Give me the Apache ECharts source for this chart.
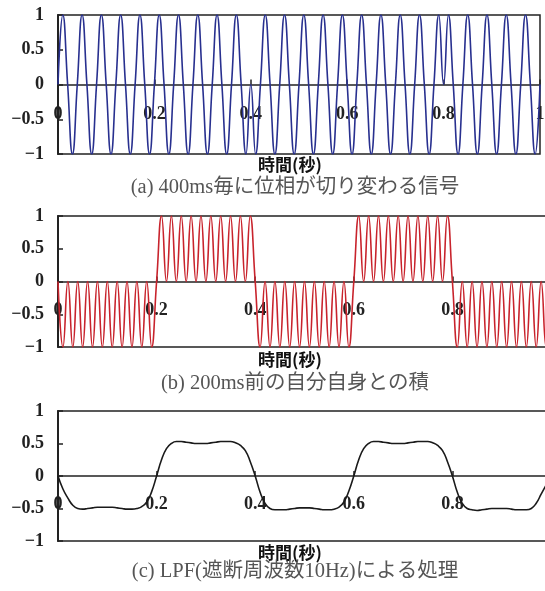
<!DOCTYPE html>
<html><head><meta charset="utf-8">
<script src="https://cdn.jsdelivr.net/npm/echarts@6/dist/echarts.min.js"></script>
<style>html,body{margin:0;padding:0;background:#fff}#c{width:545px;height:591px}</style>
</head><body><div id="c"></div>
<script>
// time samples (s)
const time = [0,0.01,0.02,0.03,0.04,0.05,0.06,0.07,0.08,0.09,
0.1,0.11,0.12,0.13,0.14,0.15,0.16,0.17,0.18,0.19,
0.2,0.21,0.22,0.23,0.24,0.25,0.26,0.27,0.28,0.29,
0.3,0.31,0.32,0.33,0.34,0.35,0.36,0.37,0.38,0.39,
0.4,0.41,0.42,0.43,0.44,0.45,0.46,0.47,0.48,0.49,
0.5,0.51,0.52,0.53,0.54,0.55,0.56,0.57,0.58,0.59,
0.6,0.61,0.62,0.63,0.64,0.65,0.66,0.67,0.68,0.69,
0.7,0.71,0.72,0.73,0.74,0.75,0.76,0.77,0.78,0.79,
0.8,0.81,0.82,0.83,0.84,0.85,0.86,0.87,0.88,0.89,
0.9,0.91,0.92,0.93,0.94,0.95,0.96,0.97,0.98,0.99,1];
// (a) phase-switching signal
const signalA = [0,1,0,-1,0,1,0,-1,0,1,
0,-1,0,1,0,-1,0,1,0,-1,
0,1,0,-1,0,1,0,-1,0,1,
0,-1,0,1,0,-1,0,1,0,-1,
0,-1,0,1,0,-1,0,1,0,-1,
0,1,0,-1,0,1,0,-1,0,1,
0,-1,0,1,0,-1,0,1,0,-1,
0,1,0,-1,0,1,0,-1,0,1,
0,1,0,-1,0,1,0,-1,0,1,
0,-1,0,1,0,-1,0,1,0,-1,0];
// (b) product with itself 200ms earlier
const productB = [0,-1,0,-1,0,-1,0,-1,0,-1,
0,-1,0,-1,0,-1,0,-1,0,-1,
0,1,0,1,0,1,0,1,0,1,
0,1,0,1,0,1,0,1,0,1,
0,-1,0,-1,0,-1,0,-1,0,-1,
0,-1,0,-1,0,-1,0,-1,0,-1,
0,1,0,1,0,1,0,1,0,1,
0,1,0,1,0,1,0,1,0,1,
0,-1,0,-1,0,-1,0,-1,0,-1,
0,-1,0,-1,0,-1,0,-1,0,-1,0];
// (c) low-pass filtered
const lpfC = [0,-0.20,-0.34,-0.45,-0.50,-0.51,-0.50,-0.49,-0.48,-0.48,
-0.48,-0.48,-0.49,-0.50,-0.51,-0.51,-0.50,-0.47,-0.40,-0.24,
0.00,0.25,0.42,0.50,0.53,0.53,0.52,0.51,0.50,0.50,
0.50,0.51,0.52,0.53,0.53,0.53,0.51,0.47,0.39,0.22,
0.00,-0.25,-0.42,-0.50,-0.52,-0.52,-0.52,-0.51,-0.50,-0.49,
-0.49,-0.49,-0.50,-0.51,-0.52,-0.52,-0.51,-0.48,-0.40,-0.23,
0.00,0.25,0.42,0.50,0.53,0.53,0.52,0.51,0.50,0.50,
0.50,0.51,0.52,0.53,0.53,0.53,0.51,0.47,0.39,0.22,
0.00,-0.25,-0.42,-0.50,-0.52,-0.53,-0.52,-0.51,-0.50,-0.50,
-0.50,-0.50,-0.51,-0.52,-0.52,-0.52,-0.50,-0.42,-0.28,-0.14,0.00];
const xTickStep = 0.2;
const yTickStep = 0.5;
const axisTitle = '時間(秒)';
const captions = ['(a) 400ms毎に位相が切り変わる信号','(b) 200ms前の自分自身との積','(c) LPF(遮断周波数10Hz)による処理'];
const colors = ['#28308f','#c8232c','#1a1a1a'];

const grids = [
  {left:58, top:15, width:482, height:139},
  {left:58, top:216, width:493, height:131},
  {left:58, top:411, width:493, height:130}
];
const labelOffset = [-69.5, -65.5, -65];
const labelMargin = [20.5, 20, 19.5];
const labelFont = {fontFamily:'Liberation Serif', fontWeight:'bold', fontSize:18, color:'#222'};
const chart = echarts.init(document.getElementById('c'), null, {renderer:'canvas'});
const xAxes = [], yAxes = [], series = [];
const datasets = [signalA, productB, lpfC];
const titleY = [165, 360, 553];
const capY = [188, 384, 572];
const fmtX = v => v===0 ? '0' : (v===1 ? '1' : v.toFixed(1));
grids.forEach((g,i)=>{
  g.show = true; g.borderColor = '#222'; g.borderWidth = 1.5; g.containLabel = false; g.outerBoundsMode = 'none';
  xAxes.push({type:'value', gridIndex:i, min:0, max:1, interval:xTickStep,
    axisLine:{onZero:true, lineStyle:{color:'#222', width:1.5}},
    axisTick:{show:true, inside:true, length:5, lineStyle:{color:'#222', width:1.5}},
    axisLabel:{show:false},
    splitLine:{show:false}});
  xAxes.push({type:'value', gridIndex:i, min:0, max:1, interval:xTickStep, position:'bottom', offset:labelOffset[i],
    axisLine:{show:false, onZero:false}, axisTick:{show:false},
    axisLabel:Object.assign({margin:labelMargin[i], formatter:fmtX}, labelFont),
    splitLine:{show:false}});
  yAxes.push({type:'value', gridIndex:i, min:-1, max:1, interval:yTickStep,
    axisLine:{show:true, lineStyle:{color:'#222', width:2}},
    axisTick:{show:true, inside:true, length:5, lineStyle:{color:'#222', width:1.5}},
    axisLabel:Object.assign({margin:14, formatter:v=> v<0 ? '\u2212'+Math.abs(v) : String(v)}, labelFont),
    splitLine:{show:false}});
  series.push({type:'line', xAxisIndex:2*i, yAxisIndex:i, showSymbol:false, smooth:true,
    lineStyle:{color:colors[i], width:1.6}, animation:false,
    data: time.map((t,k)=>[t, datasets[i][k]])});
});
const gfx = [];
for (let i=0;i<3;i++){
  gfx.push({type:'text', x:290, y:titleY[i], style:{text:axisTitle, font:'bold 17px "Noto Sans CJK JP"', fill:'#111', textAlign:'center', textVerticalAlign:'middle'}});
  gfx.push({type:'text', x:295, y:capY[i], style:{text:captions[i], font:'normal 20.5px "Liberation Serif", "Noto Sans CJK JP"', fill:'#555', textAlign:'center', textVerticalAlign:'middle'}});
}
chart.setOption({animation:false, grid:grids, xAxis:xAxes, yAxis:yAxes, series:series, graphic:gfx});
</script></body></html>
